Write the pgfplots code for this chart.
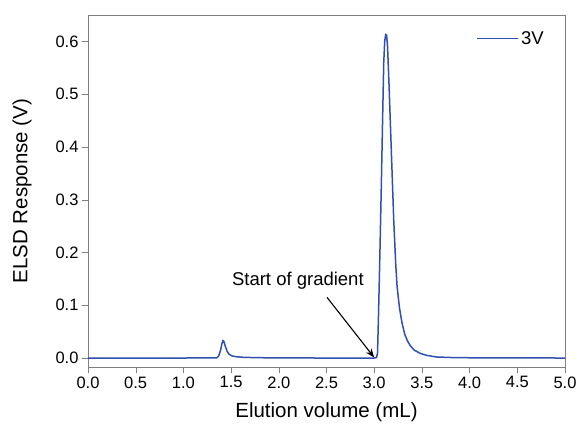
\documentclass[border=0pt]{standalone}
\usepackage{fontspec}
\setmainfont{Liberation Sans}
\usepackage{pgfplots}
\pgfplotsset{compat=1.18}
\usetikzlibrary{arrows.meta}
\definecolor{lineblue}{HTML}{3050B0}
\begin{document}
\begin{tikzpicture}
\useasboundingbox (-88pt,-60pt) rectangle (489pt,367pt);
\begin{axis}[
  scale only axis,
  width=477pt, height=352pt,
  xmin=0, xmax=5, ymin=-0.017, ymax=0.65,
  xtick={0,0.5,...,5}, ytick={0,0.1,...,0.6},
  xticklabel style={/pgf/number format/.cd,fixed,fixed zerofill,precision=1},
  yticklabel style={/pgf/number format/.cd,fixed,fixed zerofill,precision=1},
  /pgf/number format/assume math mode=true,
  tick label style={font=\fontsize{16.5}{18}\selectfont, black},
  label style={font=\fontsize{20.5}{22}\selectfont},
  xlabel={Elution volume (mL)},
  ylabel={ELSD Response (V)},
  xlabel style={at={(axis description cs:0.5,-0.127)}, anchor=center},
  ylabel style={at={(axis description cs:-0.138,0.5)}, anchor=center},
  tick align=outside, xtick pos=bottom, ytick pos=left,
  major tick length=6pt,
  axis line style={gray}, every tick/.style={gray},
  legend style={draw=none, fill=none, at={(axis description cs:0.96,0.96)}, anchor=north east, font=\fontsize{18.5}{20}\selectfont, inner sep=0pt, /tikz/every even column/.append style={column sep=2pt}},
  legend cell align=left,
  legend image code/.code={\draw[#1, line width=1.5pt] (0pt,0pt) -- (41pt,0pt);},
]
\addplot[lineblue, line width=1.5pt] coordinates {
(0,0) (1.0,0) (1.35,0.0005) (1.37,0.004) (1.39,0.015) (1.405,0.028) (1.415,0.033) (1.425,0.031) (1.44,0.022) (1.46,0.012) (1.48,0.007) (1.51,0.004) (1.55,0.0025) (1.62,0.0015) (1.75,0.0007) (2.0,0.0002) (2.5,0)
(3.00,0) (3.025,0.001) (3.035,0.01) (3.045,0.08) (3.06,0.2) (3.075,0.33) (3.09,0.47) (3.10,0.56) (3.11,0.60) (3.12,0.613) (3.13,0.612) (3.14,0.59) (3.155,0.52) (3.18,0.39) (3.205,0.26) (3.225,0.18) (3.24,0.135) (3.265,0.095) (3.29,0.068) (3.32,0.045) (3.35,0.032) (3.38,0.023) (3.42,0.015) (3.48,0.009) (3.55,0.005) (3.65,0.002) (3.8,0.001) (4.0,0.0005) (5.0,0)
};
\addlegendentry{3V}
\draw[-{Stealth[length=9pt,width=7pt]}, line width=1.1pt] (axis cs:2.505,0.115) -- (axis cs:3.0,0.001);
\node[font=\fontsize{18.5}{20}\selectfont] at (axis cs:2.20,0.146) {Start of gradient};
\end{axis}
\end{tikzpicture}
\end{document}
